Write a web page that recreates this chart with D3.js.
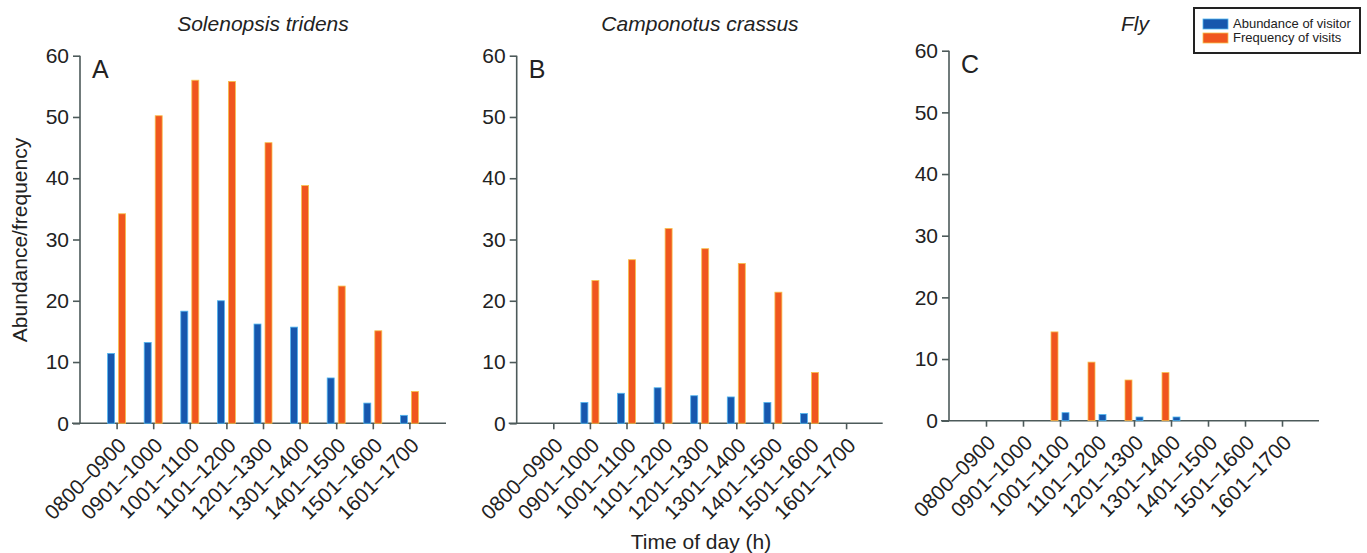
<!DOCTYPE html>
<html>
<head>
<meta charset="utf-8">
<script src="https://cdn.jsdelivr.net/npm/d3@7"></script>
<style>
  body { margin: 0; background: #fff; }
  svg { font-family: "Liberation Sans", Arial, sans-serif; }
  .axis path, .axis line { stroke: #4d5a5a; stroke-width: 1.6; }
  .axis text { fill: #222; }
</style>
</head>
<body>
<div id="chart"></div>
<script>
// time slots (x categories)
var slots = ["0800\u20130900", "0901\u20131000", "1001\u20131100", "1101\u20131200", "1201\u20131300",
  "1301\u20131400", "1401\u20131500", "1501\u20131600", "1601\u20131700"];
var yTicks = [0, 10, 20, 30, 40, 50, 60];

var titles = ["Solenopsis tridens", "Camponotus crassus", "Fly"];
var letters = ["A", "B", "C"];

// abundance of visitor (blue) per panel
var abundanceA = [11.4, 13.2, 18.3, 20.0, 16.2, 15.7, 7.4, 3.3, 1.3];
var abundanceB = [0, 3.4, 4.9, 5.8, 4.5, 4.3, 3.4, 1.6, 0];
var abundanceC = [0, 0, 1.3, 1.0, 0.6, 0.6, 0, 0, 0];

// frequency of visits (orange) per panel
var frequencyA = [34.2, 50.2, 56.0, 55.8, 45.8, 38.8, 22.4, 15.1, 5.2];
var frequencyB = [0, 23.3, 26.7, 31.8, 28.5, 26.1, 21.4, 8.3, 0];
var frequencyC = [0, 0, 14.4, 9.5, 6.6, 7.8, 0, 0, 0];

var seriesNames = ["Abundance of visitor", "Frequency of visits"];
var colors = ["#1757ad", "#f0561e"];
var edges = ["#4fb6f0", "#f7c04a"];

var W = 1367, H = 553;
var svg = d3.select("#chart").append("svg").attr("width", W).attr("height", H);

// panel layout: left of y axis, right of x axis, top(60) and bottom(0) in px
var panels = [
  { x0: 80, x1: 446, top: 55.7, bottom: 423.3, abund: abundanceA, freq: frequencyA, freqFirst: false, tx: 263 },
  { x0: 516.7, x1: 882.7, top: 55.7, bottom: 423.3, abund: abundanceB, freq: frequencyB, freqFirst: false, tx: 700 },
  { x0: 949, x1: 1319, top: 50.7, bottom: 420.7, abund: abundanceC, freq: frequencyC, freqFirst: true, tx: 1135 }
];

panels.forEach(function(p, k) {
  var x = d3.scalePoint().domain(slots).range([p.x0, p.x1]).padding(1);
  var y = d3.scaleLinear().domain([0, 60]).range([p.bottom, p.top]);
  var g = svg.append("g");

  // y axis
  var ya = g.append("g").attr("class", "axis")
    .attr("transform", "translate(" + p.x0 + ",0)")
    .call(d3.axisLeft(y).tickValues(yTicks).tickSize(7).tickPadding(4).tickSizeOuter(0));
  ya.selectAll("text").style("font-size", "21px");
  ya.select(".domain").attr("d", "M0," + p.bottom + "V" + p.top);

  // x axis
  var xa = g.append("g").attr("class", "axis")
    .attr("transform", "translate(0," + p.bottom + ")")
    .call(d3.axisBottom(x).tickSize(6).tickSizeOuter(0));
  xa.select(".domain").attr("d", "M" + (p.x0 - 8) + ",0H" + p.x1);
  xa.selectAll("text")
    .style("font-size", "21px")
    .attr("text-anchor", "end")
    .attr("dy", null)
    .attr("transform", "translate(4,17) rotate(-45)");

  // bars
  var bw = 7, gap = 4;
  var order = p.freqFirst ? [1, 0] : [0, 1];
  var vals = [p.abund, p.freq];
  order.forEach(function(s, pos) {
    var off = pos === 0 ? -(gap / 2 + bw) : gap / 2;
    g.selectAll(null).data(vals[s].map(function(v, i) { return { c: slots[i], v: v }; })
        .filter(function(d) { return d.v > 0; }))
      .enter().append("rect")
      .attr("x", function(d) { return x(d.c) + off; })
      .attr("width", bw)
      .attr("y", function(d) { return y(d.v); })
      .attr("height", function(d) { return y(0) - y(d.v); })
      .attr("fill", colors[s])
      .attr("stroke", edges[s])
      .attr("stroke-width", 0.8);
  });

  // panel letter
  g.append("text").attr("x", p.x0 + 12).attr("y", p.top + 22)
    .style("font-size", "25px").attr("fill", "#222").text(letters[k]);

  // title
  g.append("text").attr("x", p.tx).attr("y", 31)
    .attr("text-anchor", "middle").style("font-size", "21px").style("font-style", "italic")
    .attr("fill", "#222").text(titles[k]);
});

// axis titles
svg.append("text")
  .attr("transform", "translate(27,240) rotate(-90)")
  .attr("text-anchor", "middle").style("font-size", "21px").attr("fill", "#222")
  .text("Abundance/frequency");
svg.append("text").attr("x", 701).attr("y", 549)
  .attr("text-anchor", "middle").style("font-size", "21px").attr("fill", "#222")
  .text("Time of day (h)");

// legend
var lg = svg.append("g").attr("transform", "translate(1194,8)");
lg.append("rect").attr("width", 166).attr("height", 45)
  .attr("fill", "#fff").attr("stroke", "#222").attr("stroke-width", 2);
seriesNames.forEach(function(n, i) {
  lg.append("rect").attr("x", 9).attr("y", 11 + i * 14).attr("width", 25).attr("height", 10)
    .attr("fill", colors[i]).attr("stroke", edges[i]).attr("stroke-width", 0.8);
  lg.append("text").attr("x", 39).attr("y", 20 + i * 14)
    .style("font-size", "13px").attr("fill", "#222").text(n);
});
</script>
</body>
</html>
